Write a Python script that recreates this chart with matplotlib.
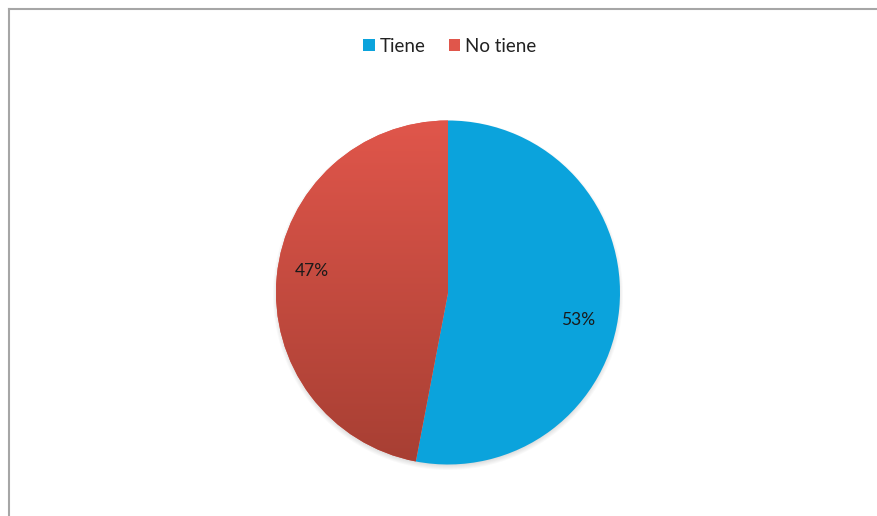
import numpy as np
import matplotlib
matplotlib.use("Agg")
import matplotlib.pyplot as plt
from matplotlib.patches import Ellipse, Rectangle
from matplotlib.lines import Line2D
from matplotlib.colors import LinearSegmentedColormap

categories = ["Tiene", "No tiene"]
values = [53, 47]
labels_pct = ["53%", "47%"]

blue = "#0BA3DC"
red_top = "#E0564B"
red_bottom = "#A73F33"

plt.rcParams['font.family'] = ['Lato', 'DejaVu Sans']

W, H = 877, 516
fig = plt.figure(figsize=(W / 100, H / 100), dpi=100)
ax = fig.add_axes([0, 0, 1, 1])

cx, cy, r = 448, H - 292.5, 172

# soft shadow (subtle, mostly below)
for i in range(6):
    ax.add_patch(Ellipse((cx, cy - 2.5), 2 * r + 6 - i * 2, 2 * r + 6 - i * 2,
                         facecolor='#000000', alpha=0.025, edgecolor='none', zorder=1))

wedges, _ = ax.pie(values, colors=[blue, red_top], startangle=90, counterclock=False,
                   center=(cx, cy), radius=r, frame=True,
                   wedgeprops=dict(edgecolor='none', linewidth=0))
for w in wedges:
    w.set_zorder(2)
ax.set_xlim(0, W)
ax.set_ylim(0, H)
ax.set_aspect('equal')
ax.axis('off')

# gradient for red wedge
cmap = LinearSegmentedColormap.from_list("redgrad", [red_bottom, red_top])
grad = np.linspace(0, 1, 256).reshape(-1, 1)
im = ax.imshow(grad, cmap=cmap, origin='lower', extent=[cx - r, cx + r, cy - r, cy + r],
               aspect='auto', zorder=3)
im.set_clip_path(wedges[1])
ax.set_xlim(0, W)
ax.set_ylim(0, H)

# percentage labels
ax.text(578, H - 320, labels_pct[0], fontsize=12.5, color='#1a1a1a', ha='center', va='center', zorder=5)
ax.text(312, H - 271, labels_pct[1], fontsize=12.5, color='#1a1a1a', ha='center', va='center', zorder=5)

# legend
handles = [Rectangle((0, 0), 1, 1, facecolor=blue), Rectangle((0, 0), 1, 1, facecolor=red_top)]
fig.legend(handles, categories, loc='center', bbox_to_anchor=(450 / W, 1 - 46 / H), ncol=2,
           frameon=False, fontsize=13.5, handlelength=0.6, handleheight=0.6,
           handletextpad=0.3, columnspacing=1.2, labelcolor='#222222')

# border (outer frame, partially visible)
ax.add_line(Line2D([8.5, 8.5], [0, H - 8.5], color='#A6A6A6', lw=1.5, zorder=6))
ax.add_line(Line2D([8.5, W], [H - 8.5, H - 8.5], color='#A6A6A6', lw=1.5, zorder=6))

fig.savefig("out.png", dpi=100, facecolor='white')
